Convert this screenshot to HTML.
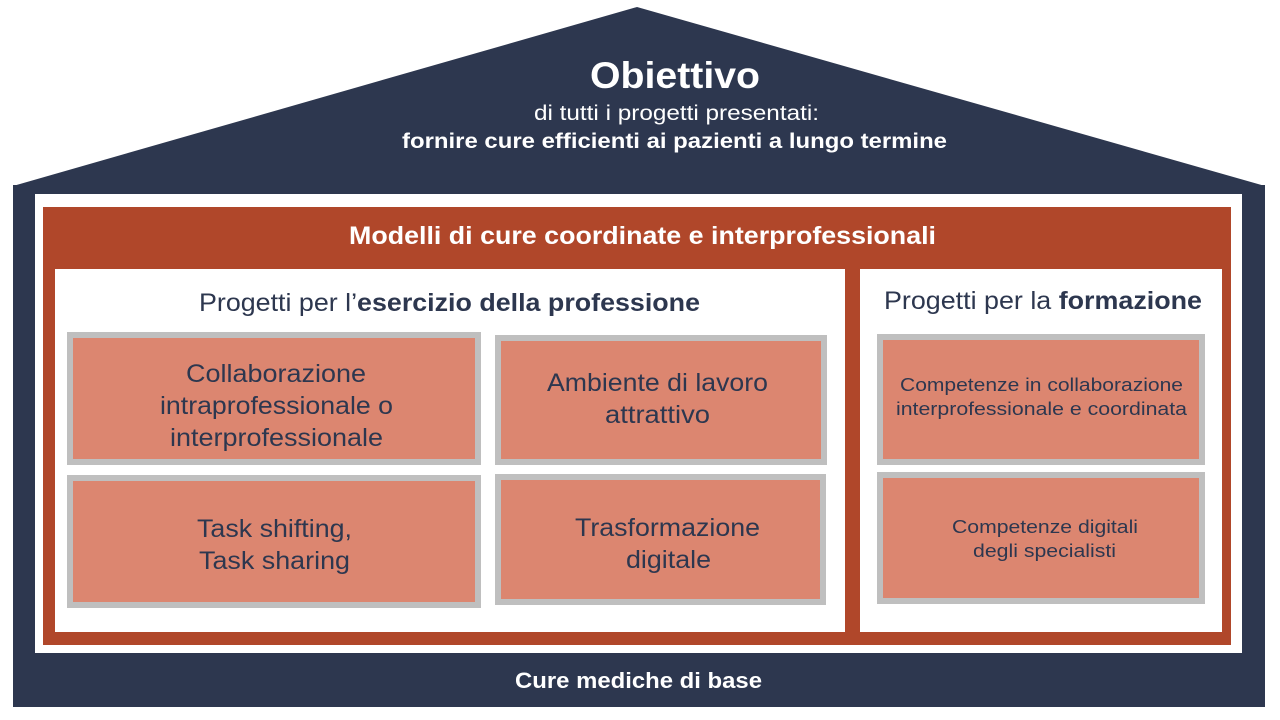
<!DOCTYPE html>
<html><head><meta charset="utf-8"><style>
html,body{margin:0;padding:0;background:#fff;width:1280px;height:720px;overflow:hidden}
text{font-family:"Liberation Sans",Arial,sans-serif}
</style></head><body>
<svg width="1280" height="720" viewBox="0 0 1280 720" xmlns="http://www.w3.org/2000/svg">
<polygon points="13,186 637,7 1265,186" fill="#2d374f"/>
<rect x="13" y="185" width="1252" height="522" fill="#2d374f"/>
<rect x="35" y="194" width="1207" height="459" fill="#fff"/>
<rect x="43" y="207" width="1188" height="438" fill="#b0472a"/>
<rect x="55" y="269" width="790" height="363" fill="#fff"/>
<rect x="860" y="269" width="362" height="363" fill="#fff"/>
<g fill="#dc8670" stroke="#bfbfbf" stroke-width="6">
<rect x="70" y="335" width="408" height="127"/>
<rect x="498" y="338" width="326" height="124"/>
<rect x="70" y="478" width="408" height="127"/>
<rect x="498" y="477" width="325" height="125"/>
<rect x="880" y="337" width="322" height="125"/>
<rect x="880" y="475" width="322" height="126"/>
</g>
<g fill="#fff" text-anchor="middle" lengthAdjust="spacingAndGlyphs">
<text x="675" y="88" font-size="37" font-weight="bold" textLength="170" lengthAdjust="spacingAndGlyphs">Obiettivo</text>
<text x="676.5" y="120" font-size="21" textLength="285" lengthAdjust="spacingAndGlyphs">di tutti i progetti presentati:</text>
<text x="674.5" y="148" font-size="21" font-weight="bold" textLength="545" lengthAdjust="spacingAndGlyphs">fornire cure efficienti ai pazienti a lungo termine</text>
<text x="642.5" y="244" font-size="25" font-weight="bold" textLength="587" lengthAdjust="spacingAndGlyphs">Modelli di cure coordinate e interprofessionali</text>
<text x="638.5" y="688" font-size="22" font-weight="bold" textLength="247" lengthAdjust="spacingAndGlyphs">Cure mediche di base</text>
</g>
<g fill="#2d374f" text-anchor="middle">
<text x="449.5" y="311" font-size="25" textLength="501" lengthAdjust="spacingAndGlyphs">Progetti per l’<tspan font-weight="bold">esercizio della professione</tspan></text>
<text x="1043" y="309" font-size="25" textLength="318" lengthAdjust="spacingAndGlyphs">Progetti per la <tspan font-weight="bold">formazione</tspan></text>
<g font-size="25">
<text x="276" y="382" textLength="180" lengthAdjust="spacingAndGlyphs">Collaborazione</text>
<text x="276.5" y="414" textLength="233" lengthAdjust="spacingAndGlyphs">intraprofessionale o</text>
<text x="276.5" y="446" textLength="213" lengthAdjust="spacingAndGlyphs">interprofessionale</text>
<text x="657.5" y="391" textLength="221" lengthAdjust="spacingAndGlyphs">Ambiente di lavoro</text>
<text x="657.5" y="423" textLength="105" lengthAdjust="spacingAndGlyphs">attrattivo</text>
<text x="274.5" y="537" textLength="155" lengthAdjust="spacingAndGlyphs">Task shifting,</text>
<text x="274.5" y="569" textLength="151" lengthAdjust="spacingAndGlyphs">Task sharing</text>
<text x="667.5" y="536" textLength="185" lengthAdjust="spacingAndGlyphs">Trasformazione</text>
<text x="668.5" y="568" textLength="85" lengthAdjust="spacingAndGlyphs">digitale</text>
</g>
<g font-size="18">
<text x="1041.5" y="391" textLength="283" lengthAdjust="spacingAndGlyphs">Competenze  in collaborazione</text>
<text x="1041.5" y="415" textLength="291" lengthAdjust="spacingAndGlyphs">interprofessionale e coordinata</text>
<text x="1045" y="533" textLength="186" lengthAdjust="spacingAndGlyphs">Competenze  digitali</text>
<text x="1044.5" y="557" textLength="143" lengthAdjust="spacingAndGlyphs">degli  specialisti</text>
</g>
</g>
</svg>
</body></html>
